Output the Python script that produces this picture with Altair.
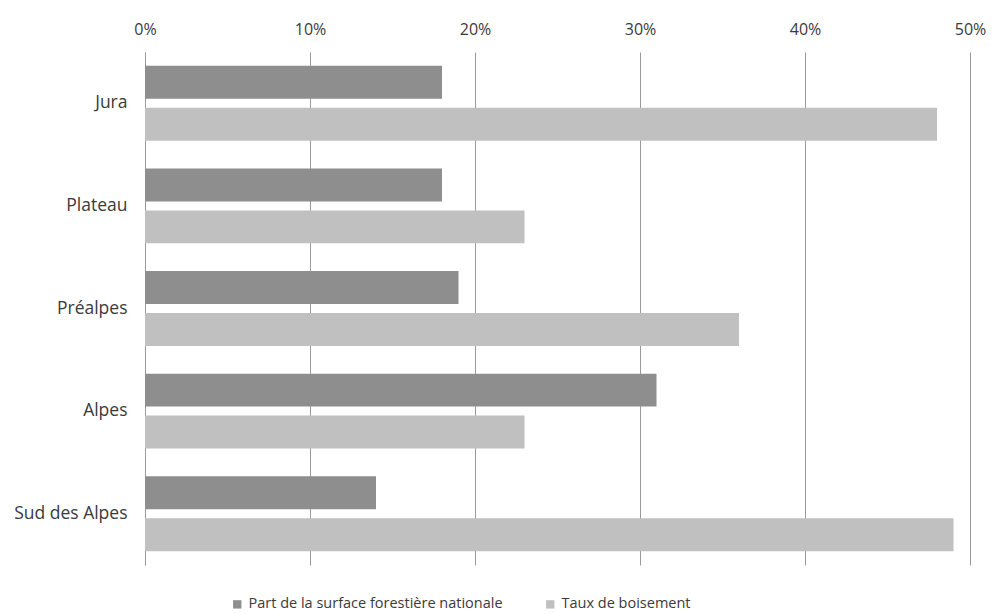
import altair as alt
import pandas as pd

regions = ["Jura", "Plateau", "Préalpes", "Alpes", "Sud des Alpes"]
series = ["Part de la surface forestière nationale", "Taux de boisement"]
part_surface = [0.18, 0.18, 0.19, 0.31, 0.14]
taux_boisement = [0.48, 0.23, 0.36, 0.23, 0.49]
colors = ["#8e8e8e", "#c0c0c0"]

rows = []
for i, r in enumerate(regions):
    rows.append({"region": r, "serie": series[0], "valeur": part_surface[i]})
    rows.append({"region": r, "serie": series[1], "valeur": taux_boisement[i]})
df = pd.DataFrame(rows)

font = "Open Sans"

chart = (
    alt.Chart(df)
    .mark_bar()
    .encode(
        y=alt.Y(
            "region:N",
            sort=regions,
            title=None,
            scale=alt.Scale(paddingInner=0.27, paddingOuter=0.135),
            axis=alt.Axis(
                domain=True,
                domainColor="#9a9a9a",
                ticks=False,
                labelPadding=18,
                labelFontSize=17.5,
                labelColor="#3a3a3a",
                labelFont=font,
            ),
        ),
        yOffset=alt.YOffset(
            "serie:N",
            sort=series,
            scale=alt.Scale(paddingInner=0.214, paddingOuter=0),
        ),
        x=alt.X(
            "valeur:Q",
            title=None,
            scale=alt.Scale(domain=[0, 0.5]),
            axis=alt.Axis(
                orient="top",
                format=".0%",
                values=[0, 0.1, 0.2, 0.3, 0.4, 0.5],
                domain=False,
                ticks=False,
                grid=True,
                gridColor="#9a9a9a",
                labelFlush=False,
                labelPadding=15,
                labelFontSize=16,
                labelColor="#3a3a3a",
                labelFont=font,
            ),
        ),
        color=alt.Color(
            "serie:N",
            sort=series,
            scale=alt.Scale(domain=series, range=colors),
            legend=alt.Legend(
                title=None,
                orient="none",
                direction="horizontal",
                legendX=85,
                legendY=545,
                symbolType="square",
                symbolSize=70,
                symbolStrokeWidth=0,
                labelFontSize=14.5,
                labelColor="#3a3a3a",
                labelFont=font,
                labelLimit=400,
                columnPadding=40,
            ),
        ),
    )
    .properties(
        width=825,
        height=513,
        padding={"left": 145, "top": 52, "right": 22, "bottom": 49},
        autosize=alt.AutoSizeParams(type="none"),
        background="white",
    )
    .configure_view(stroke=None)
)

chart.save("out.html", embed_options={"renderer": "svg", "actions": False})
